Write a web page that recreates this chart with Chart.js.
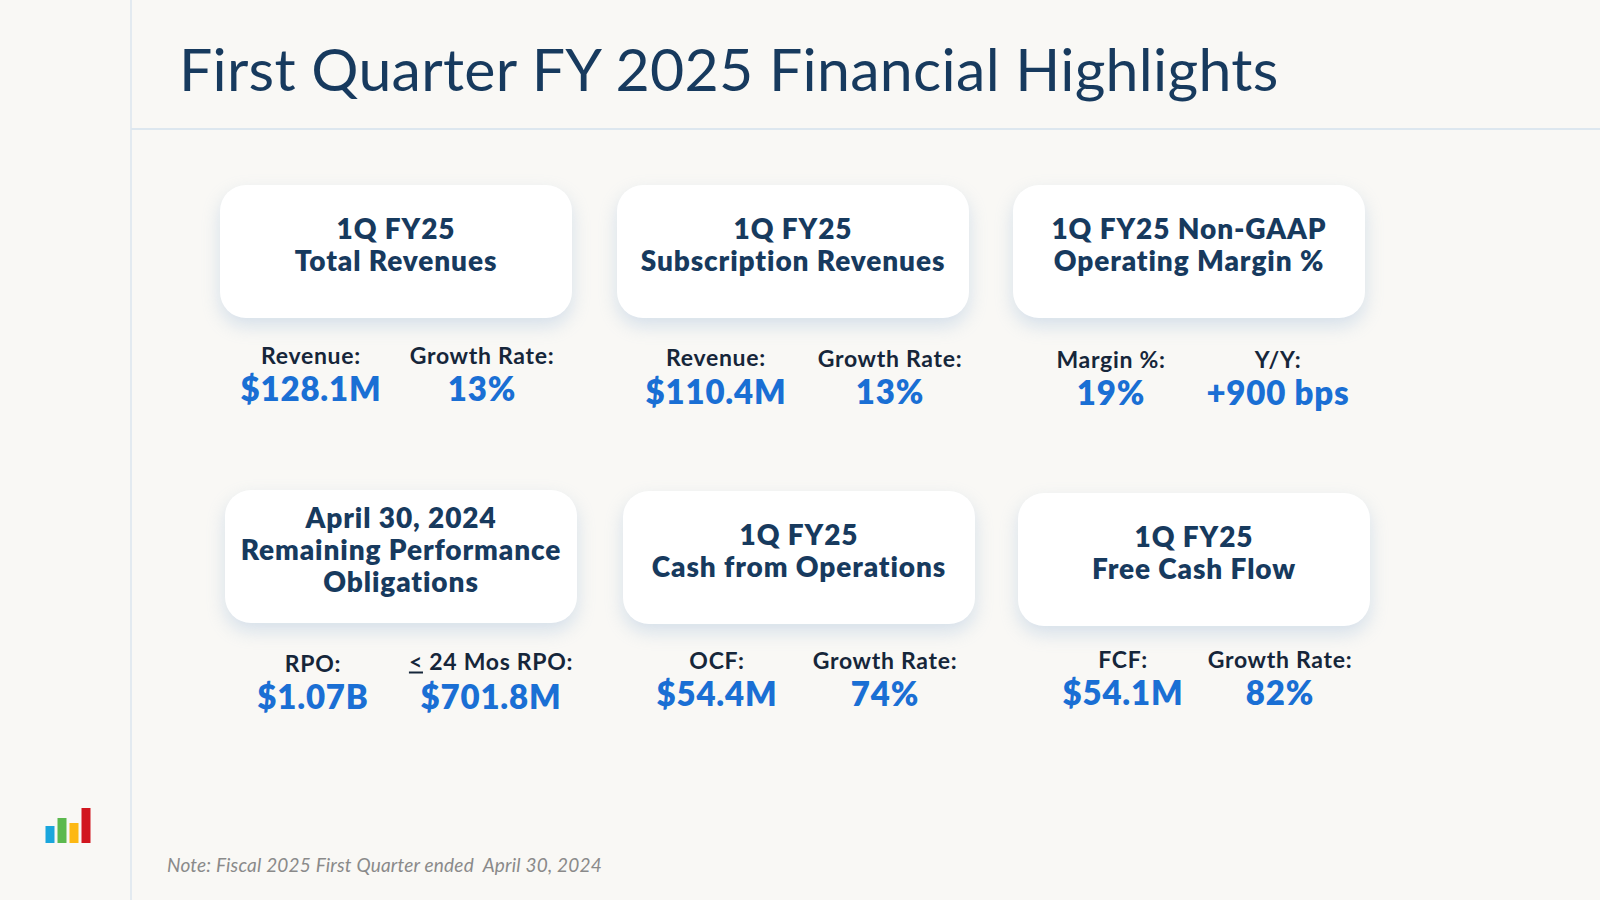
<!DOCTYPE html>
<html lang="en">
<head>
  <meta charset="utf-8"/>
  <title>First Quarter FY 2025 Financial Highlights</title>

  <!-- Chart.js -->
  <script src="https://cdn.jsdelivr.net/npm/chart.js"></script>

  <style>
    html, body { margin: 0; padding: 0; }
    body {
      width: 1600px; height: 900px; overflow: hidden; position: relative;
      background: #f9f8f5; font-family: Lato, "Open Sans", sans-serif;
    }
    .vline { position: absolute; left: 130px; top: 0; width: 2px; height: 900px; background: #e3eaf0; }
    .hline { position: absolute; left: 131px; top: 128px; width: 1469px; height: 2px; background: #dde7ef; }
    h1 {
      position: absolute; left: 179px; top: 33px; margin: 0;
      font-weight: 400; font-size: 59px; color: #173a5e; letter-spacing: 0.3px;
    }
    .card {
      position: absolute; width: 352px; height: 133px; background: #fff;
      border-radius: 26px; box-shadow: 0 8px 18px rgba(140,175,210,0.32);
      display: flex; align-items: center; justify-content: center; text-align: center;
      box-sizing: border-box; padding-bottom: 15px;
      color: #173a5e; font-weight: 800; font-size: 28px; line-height: 32px; letter-spacing: 0.9px;
    }
    .lbl, .val { position: absolute; transform: translate(-50%, -50%); white-space: nowrap; line-height: 1; }
    .lbl { font-size: 23px; color: #16263a; font-weight: 700; letter-spacing: 0.7px; }
    .val { font-size: 33px; color: #1a6fd4; font-weight: 800; letter-spacing: 0.8px; }
    .note {
      position: absolute; left: 167px; top: 853px; font-style: italic;
      font-size: 19px; color: #8a8a8a; letter-spacing: 0.2px;
    }
    #logoWrap { position: absolute; left: 44px; top: 808px; width: 48px; height: 35px; }
  </style>
</head>
<body>
  <div class="vline"></div>
  <div class="hline"></div>
  <h1>First Quarter FY 2025 Financial Highlights</h1>
  <div id="cards"></div>
  <div class="note">Note: Fiscal 2025 First Quarter ended&nbsp; April 30, 2024</div>
  <div id="logoWrap"><canvas id="logo"></canvas></div>

  <script>
  // ── DATA ─────────────────────────────────────────
  const cardTitles = [
    '1Q FY25<br>Total Revenues',
    '1Q FY25<br>Subscription Revenues',
    '1Q FY25 Non-GAAP<br>Operating Margin %',
    'April 30, 2024<br>Remaining Performance<br>Obligations',
    '1Q FY25<br>Cash from Operations',
    '1Q FY25<br>Free Cash Flow'
  ];
  const leftLabels  = ['Revenue:', 'Revenue:', 'Margin %:', 'RPO:', 'OCF:', 'FCF:'];
  const leftValues  = ['$128.1M', '$110.4M', '19%', '$1.07B', '$54.4M', '$54.1M'];
  const rightLabels = ['Growth Rate:', 'Growth Rate:', 'Y/Y:', '<u>&lt;</u> 24 Mos RPO:', 'Growth Rate:', 'Growth Rate:'];
  const rightValues = ['13%', '13%', '+900 bps', '$701.8M', '74%', '82%'];

  // logo bars (relative heights)
  const logoLabels = ['a', 'b', 'c', 'd'];
  const logoValues = [17, 25, 20, 35];
  const logoColors = ['#1aa6dd', '#5cb94e', '#fdb813', '#d1161e'];
  // ──────────────────────────────────────────────────

  // layout
  const cardBoxes = [
    [220, 185], [617, 185], [1013, 185],
    [225, 490], [623, 491], [1018, 493]
  ];
  const textPos = [
    { lx: 311, rx: 482, ly: 355, ry: 355, vy: 388 },
    { lx: 716, rx: 890, ly: 357, ry: 358, vy: 391 },
    { lx: 1111, rx: 1278, ly: 359, ry: 359, vy: 392 },
    { lx: 313, rx: 491, ly: 663, ry: 661, vy: 696 },
    { lx: 717, rx: 885, ly: 660, ry: 660, vy: 693 },
    { lx: 1123, rx: 1280, ly: 659, ry: 659, vy: 692 }
  ];

  const wrap = document.getElementById('cards');
  cardTitles.forEach((t, i) => {
    const c = document.createElement('div');
    c.className = 'card';
    c.style.left = cardBoxes[i][0] + 'px';
    c.style.top = cardBoxes[i][1] + 'px';
    c.innerHTML = `<div>${t}</div>`;
    wrap.appendChild(c);

    const p = textPos[i];
    const add = (cls, html, x, y) => {
      const d = document.createElement('div');
      d.className = cls;
      d.innerHTML = html;
      d.style.left = x + 'px';
      d.style.top = y + 'px';
      wrap.appendChild(d);
    };
    add('lbl', leftLabels[i], p.lx, p.ly);
    add('lbl', rightLabels[i], p.rx, p.ry);
    add('val', leftValues[i], p.lx, p.vy);
    add('val', rightValues[i], p.rx, p.vy);
  });

  // logo
  new Chart(document.getElementById('logo'), {
    type: 'bar',
    data: {
      labels: logoLabels,
      datasets: [{ data: logoValues, backgroundColor: logoColors, borderWidth: 0,
                   categoryPercentage: 1, barPercentage: 0.75 }]
    },
    options: {
      responsive: true, maintainAspectRatio: false, animation: false,
      layout: { padding: 0 },
      plugins: { legend: { display: false }, tooltip: { enabled: false } },
      scales: {
        x: { display: false },
        y: { display: false, min: 0, max: 35 }
      }
    }
  });
  </script>
</body>
</html>
